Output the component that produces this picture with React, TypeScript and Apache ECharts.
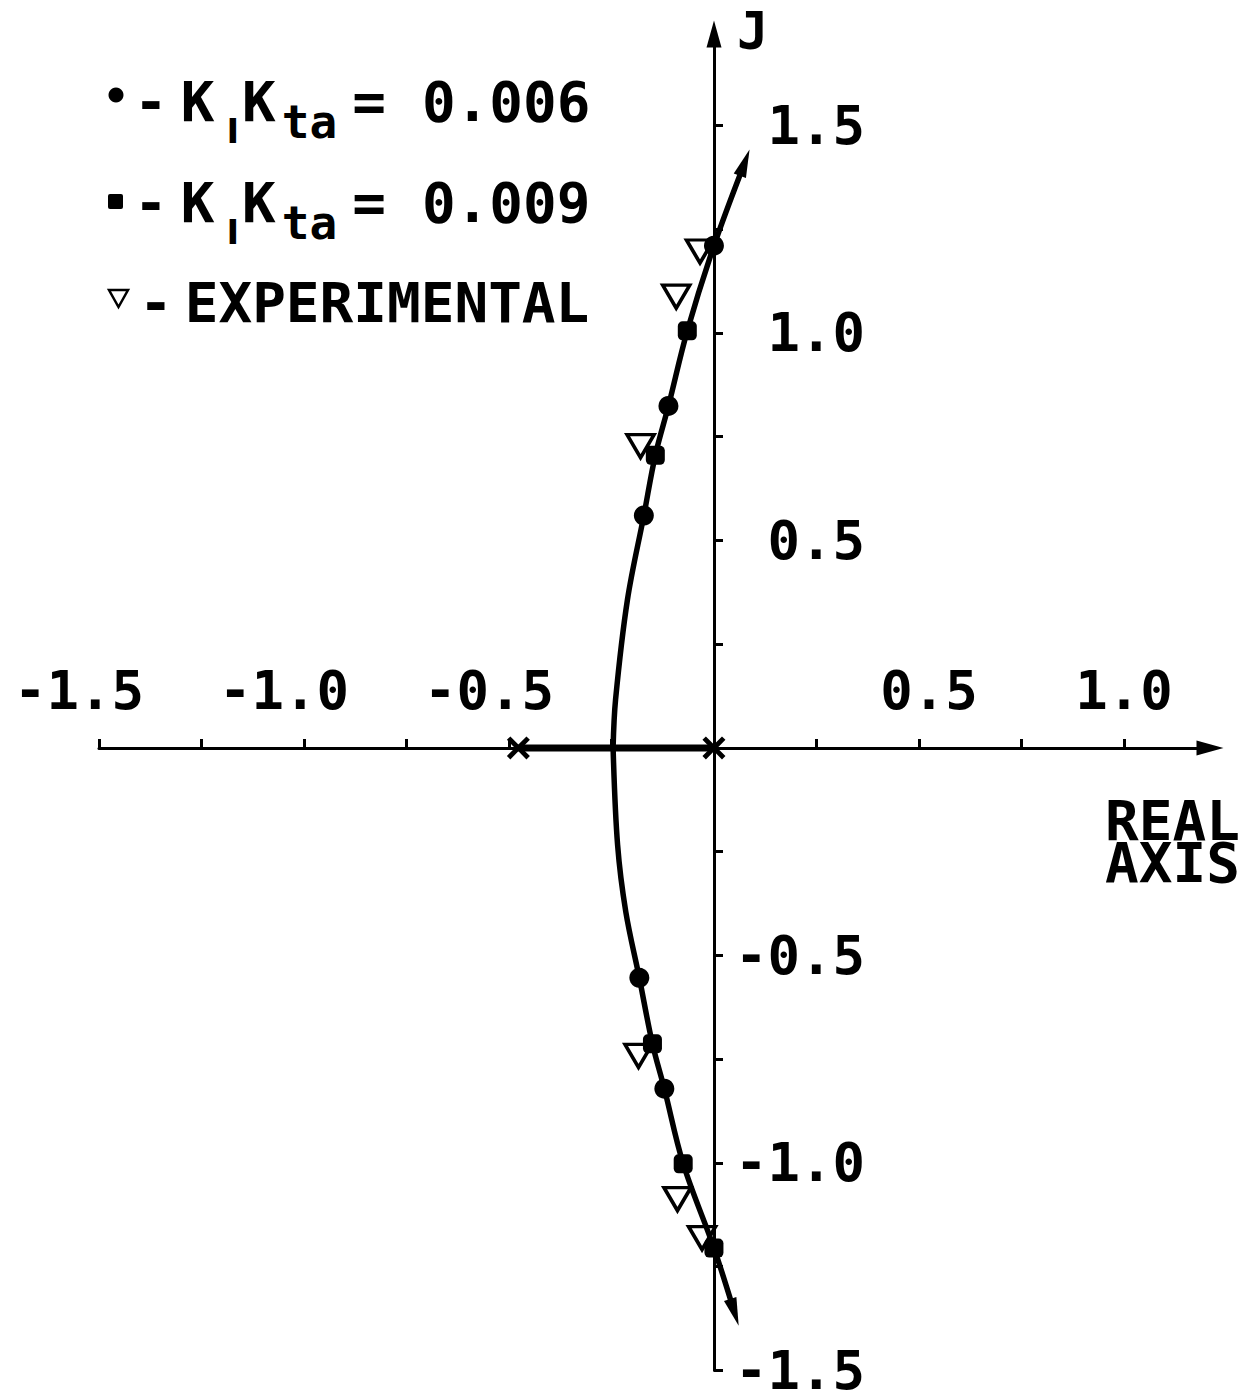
import React, { useEffect, useRef } from 'react';
import * as echarts from 'echarts';

// Root-locus branches as (real, imaginary) pairs, from the upper end down to the lower end
const locusUpper: [number, number][] = [
  [0.075, 1.41], [0.0, 1.21], [-0.065, 1.005], [-0.111, 0.824], [-0.143, 0.705],
  [-0.171, 0.56], [-0.211, 0.357], [-0.24, 0.116], [-0.246, 0],
];
const locusLower: [number, number][] = [
  [-0.246, 0], [-0.235, -0.234], [-0.215, -0.395], [-0.182, -0.554], [-0.15, -0.713],
  [-0.121, -0.821], [-0.075, -1.002], [0.0, -1.205], [0.05, -1.36],
];
// Locus segment lying on the real axis, between the two open-loop poles
const realAxisLocus: [number, number][] = [[-0.477, 0], [0, 0]];
const openLoopPoles: [number, number][] = [[-0.477, 0], [0, 0]];

// Computed roots for the two gain settings, and measured roots
const gain006: [number, number][] = [
  [-0.171, 0.56], [-0.111, 0.824], [0.0, 1.21], [-0.182, -0.554], [-0.121, -0.821],
];
const gain009: [number, number][] = [
  [-0.143, 0.705], [-0.065, 1.005], [-0.15, -0.713], [-0.075, -1.002], [0.0, -1.205],
];
const experimental: [number, number][] = [
  [-0.034, 1.196], [-0.092, 1.087], [-0.179, 0.727],
  [-0.184, -0.742], [-0.089, -1.087], [-0.029, -1.181],
];

const xTickValues = [-1.5, -1.25, -1.0, -0.75, -0.5, -0.25, 0.25, 0.5, 0.75, 1.0];
const yTickValues = [-1.5, -1.25, -1.0, -0.75, -0.5, -0.25, 0.25, 0.5, 0.75, 1.0, 1.25, 1.5];
const xTickLabels = ['-1.5', '-1.0', '-0.5', '0.5', '1.0'];
const yTickLabels = ['1.5', '1.0', '0.5', '-0.5', '-1.0', '-1.5'];
const gainLabels = ['0.006', '0.009'];

const X_MIN = -1.5;
const X_MAX = 1.21;
const Y_MIN = -1.5;
const Y_MAX = 1.72;

const MONO = '"DejaVu Sans Mono", monospace';
const SANS = '"DejaVu Sans", sans-serif';
const SX = 410; // px per unit, real axis
const SY = 415; // px per unit, imaginary axis

// Direction (ECharts symbolRotate, counter-clockwise degrees) of an arrow pointing from p to q
const arrowRotation = (p: [number, number], q: [number, number]) =>
  (-Math.atan2((q[0] - p[0]) * SX, (q[1] - p[1]) * SY) * 180) / Math.PI;

const tok = (fontSize: number, padding: number[], family = MONO) => ({
  fontSize,
  fontFamily: family,
  fontWeight: 'bold',
  fill: '#000',
  padding,
});

// Legend lettering: main characters on the line, subscripts dropped by top padding
const legendRich = {
  d: tok(56, [0, 13, 0, 0]),
  k1: tok(56, [0, 12, 0, 0]),
  s: tok(34, [60, 3, 0, 0], SANS),
  k2: tok(56, [0, 6, 0, 0]),
  t: tok(46, [42, 15, 0, 0]),
  e: tok(56, [0, 36, 0, 0]),
  g: tok(56, [0, 0, 0, 0]),
  d3: tok(56, [0, 12, 0, 0]),
};

const richText = (x: number, y: number, text: string) => ({
  type: 'text',
  x,
  y,
  style: { text, rich: legendRich, fill: '#000', align: 'left', verticalAlign: 'middle' },
});

const plainText = (x: number, y: number, text: string, size: number, lineHeight?: number) => ({
  type: 'text',
  x,
  y,
  style: {
    text,
    fill: '#000',
    fontSize: size,
    fontFamily: MONO,
    fontWeight: 'bold',
    lineHeight,
    align: 'left',
    verticalAlign: 'middle',
  },
});

const labelFont = { fontFamily: MONO, fontWeight: 'bold', fontSize: 54, color: '#000' };

export default function App() {
  const ref = useRef<HTMLDivElement>(null);

  useEffect(() => {
    if (!ref.current) return;
    const chart = echarts.init(ref.current, null, { renderer: 'svg' });

    const axisLineStyle = { color: '#000', width: 3 };
    const upperEnd = locusUpper[0];
    const lowerEnd = locusLower[locusLower.length - 1];

    chart.setOption({
      animation: false,
      backgroundColor: '#fff',
      grid: {
        left: 99,
        right: 42,
        top: 34,
        bottom: 22.5,
        containLabel: false,
        outerBoundsMode: 'none',
      },
      xAxis: {
        type: 'value',
        min: X_MIN,
        max: X_MAX,
        interval: 0.25,
        position: 'bottom',
        // shift the axis from the grid's lower edge up to the zero line
        offset: Y_MIN * SY,
        axisLine: {
          onZero: false,
          symbol: ['none', 'triangle'],
          symbolSize: [15, 27],
          lineStyle: axisLineStyle,
        },
        axisTick: {
          inside: true,
          length: 9,
          customValues: xTickValues,
          lineStyle: { color: '#000', width: 3 },
        },
        axisLabel: {
          inside: true,
          margin: 58,
          verticalAlign: 'middle',
          customValues: xTickLabels.map(Number),
          ...labelFont,
          formatter: (v: number) => {
            const s = v.toFixed(1);
            if (v < 0) return `{neg|${s}}`;
            if (v < 0.75) return `{half|${s}}`;
            return `{one|${s}}`;
          },
          rich: {
            neg: { ...labelFont, padding: [0, 40, 0, 0] },
            half: { ...labelFont, padding: [0, 0, 0, 20] },
            one: { ...labelFont },
          },
        },
        splitLine: { show: false },
      },
      yAxis: {
        type: 'value',
        min: Y_MIN,
        max: Y_MAX,
        interval: 0.25,
        position: 'left',
        // shift the axis from the grid's left edge across to the zero line
        offset: X_MIN * SX,
        axisLine: {
          onZero: false,
          symbol: ['none', 'triangle'],
          symbolSize: [15, 27],
          lineStyle: axisLineStyle,
        },
        axisTick: {
          inside: true,
          length: 9,
          customValues: yTickValues,
          lineStyle: { color: '#000', width: 3 },
        },
        axisLabel: {
          inside: true,
          margin: 151,
          align: 'right',
          verticalAlign: 'middle',
          lineHeight: 42,
          customValues: yTickLabels.map(Number),
          ...labelFont,
          formatter: (v: number) => v.toFixed(1),
        },
        splitLine: { show: false },
      },
      graphic: [
        { type: 'circle', shape: { cx: 116, cy: 95, r: 7.5 }, style: { fill: '#000' } },
        richText(134, 101, `{d|-}{k1|K}{s|I}{k2|K}{t|ta}{e|=}{g|${gainLabels[0]}}`),
        { type: 'rect', shape: { x: 108, y: 194, width: 15, height: 15, r: 2 }, style: { fill: '#000' } },
        richText(134, 202, `{d|-}{k1|K}{s|I}{k2|K}{t|ta}{e|=}{g|${gainLabels[1]}}`),
        {
          type: 'polygon',
          shape: { points: [[109, 290], [128, 290], [118.5, 307]] },
          style: { fill: '#fff', stroke: '#000', lineWidth: 2.5 },
        },
        richText(139, 302, '{d3|-}{g|EXPERIMENTAL}'),
        plainText(737, 31, 'J', 52),
        plainText(1105, 841, 'REAL\nAXIS', 56, 42),
      ],
      series: [
        {
          name: 'EXPERIMENTAL',
          type: 'scatter',
          data: experimental,
          symbol: 'path://M0,0 L20,0 L10,17 Z',
          symbolSize: [27, 23],
          itemStyle: { color: '#fff', borderColor: '#000', borderWidth: 3.5, opacity: 1 },
          z: 2,
        },
        {
          type: 'line',
          data: locusUpper,
          smooth: 0.35,
          showSymbol: false,
          lineStyle: { color: '#000', width: 5.5 },
          z: 3,
        },
        {
          type: 'line',
          data: locusLower,
          smooth: 0.35,
          showSymbol: false,
          lineStyle: { color: '#000', width: 5.5 },
          z: 3,
        },
        {
          type: 'line',
          data: realAxisLocus,
          showSymbol: false,
          lineStyle: { color: '#000', width: 7 },
          z: 3,
        },
        {
          type: 'scatter',
          data: [
            { value: upperEnd, symbolRotate: arrowRotation(locusUpper[1], upperEnd) },
            { value: lowerEnd, symbolRotate: arrowRotation(locusLower[locusLower.length - 2], lowerEnd) },
          ],
          symbol: 'triangle',
          symbolSize: [13, 28],
          itemStyle: { color: '#000', opacity: 1 },
          z: 4,
        },
        {
          type: 'scatter',
          data: openLoopPoles,
          symbol: 'path://M3,0 L10,7 L17,0 L20,3 L13,10 L20,17 L17,20 L10,13 L3,20 L0,17 L7,10 L0,3 Z',
          symbolSize: 23,
          itemStyle: { color: '#000', opacity: 1 },
          z: 4,
        },
        {
          name: 'KIKta = 0.006',
          type: 'scatter',
          data: gain006,
          symbol: 'circle',
          symbolSize: 20,
          itemStyle: { color: '#000', opacity: 1 },
          z: 5,
        },
        {
          name: 'KIKta = 0.009',
          type: 'scatter',
          data: gain009,
          symbol: 'roundRect',
          symbolSize: 19,
          itemStyle: { color: '#000', opacity: 1 },
          z: 5,
        },
      ],
    });

    return () => chart.dispose();
  }, []);

  return (
    <div
      ref={ref}
      style={{ position: 'absolute', left: 0, top: 0, width: 1252, height: 1393, background: '#fff' }}
    />
  );
}
